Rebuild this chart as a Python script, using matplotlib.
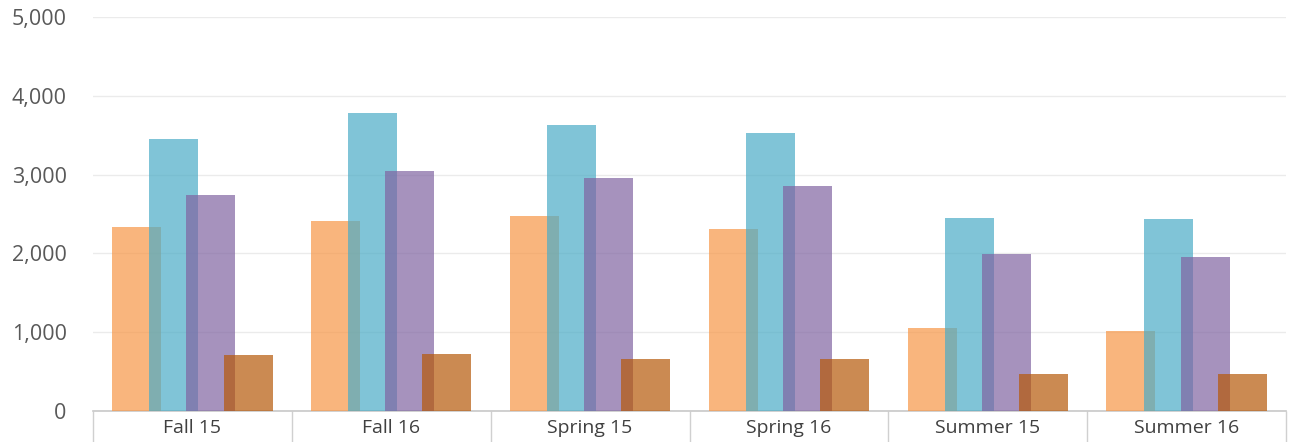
import matplotlib
matplotlib.use("Agg")
import matplotlib.pyplot as plt
import numpy as np

categories = ["Fall 15", "Fall 16", "Spring 15", "Spring 16", "Summer 15", "Summer 16"]
series_a = [2335, 2411, 2475, 2310, 1053, 1015]   # orange
series_b = [3452, 3782, 3629, 3528, 2449, 2437]   # aqua
series_c = [2741, 3046, 2957, 2855, 1992, 1954]   # purple
series_d = [711, 723, 660, 660, 470, 470]         # brown
y_ticks = [0, 1000, 2000, 3000, 4000, 5000]

colors = ["#F79646", "#4BACC6", "#8064A2", "#B65808"]
offsets = [-0.28, -0.093, 0.093, 0.28]
width = 0.246

plt.rcParams['font.family'] = ['Open Sans', 'DejaVu Sans']
fig = plt.figure(figsize=(12.9, 4.42), dpi=100)
ax = fig.add_axes([0.0721, 0.0701, 0.9248, 0.8914])

x = np.arange(len(categories))
for vals, col, off in zip([series_a, series_b, series_c, series_d], colors, offsets):
    ax.bar(x + off, vals, width=width, color=col, alpha=0.7, linewidth=0, zorder=3)

ax.set_xlim(-0.5, len(categories) - 0.5)
ax.set_ylim(0, 5000)
ax.set_yticks(y_ticks)
ax.set_yticklabels([f"{v:,}" for v in y_ticks])
ax.yaxis.grid(True, color="#EBEBEB", linewidth=1, zorder=0)
ax.tick_params(axis='y', length=0, pad=19, labelsize=15.5, labelcolor="#595959")

ax.set_xticks(x)
ax.set_xticklabels(categories)
ax.tick_params(axis='x', which='major', length=0, pad=6, labelsize=14, labelcolor="#404040")
ax.set_xticks(np.arange(-0.5, len(categories)), minor=True)
ax.tick_params(axis='x', which='minor', length=23, width=1, color="#D0D0D0", direction='out')

for s in ["top", "right", "left"]:
    ax.spines[s].set_visible(False)
ax.spines["bottom"].set_color("#C8C8C8")
ax.spines["bottom"].set_linewidth(1.2)

fig.savefig("out.png", dpi=100)
